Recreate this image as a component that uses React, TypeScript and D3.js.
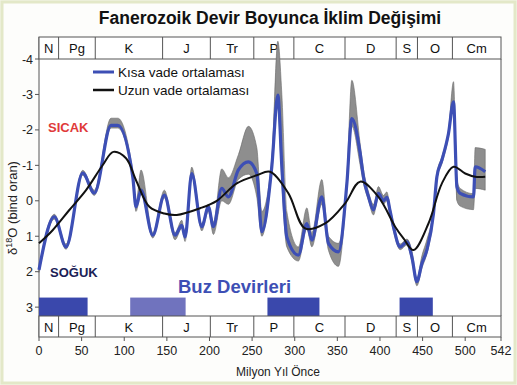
import React from "react";
import * as d3 from "d3";

// Geologic periods (Ma)
const periodNames = ["N", "Pg", "K", "J", "Tr", "P", "C", "D", "S", "O", "Cm"];
const periodStart = [0, 23, 66, 145, 201, 252, 299, 359, 419, 444, 485];
const periodEnd = [23, 66, 145, 201, 252, 299, 359, 419, 444, 485, 542];

// Ice ages (Ma)
const iceStart = [0, 107, 268, 423];
const iceEnd = [57, 172, 329, 462];
const iceLight = [false, true, false, false];

// Short-term average with uncertainty band
const shortAge = [0, 18, 31.7, 51.3, 64.9, 84.5, 92.4, 110, 113.8, 119.7, 133.5, 147.1, 159.6, 167.5, 171.4, 179.2, 191, 198.7, 204.6, 214.4, 222.2, 233.9, 245.7, 255.5, 261.4, 273.1, 280.2, 284.9, 290.7, 304.3, 314.2, 320.1, 331.8, 339.6, 351.3, 361.2, 367, 376.8, 380.6, 386.6, 392.4, 398.2, 404.1, 408, 412, 415.8, 423.7, 431.6, 437.4, 443.3, 449.2, 455, 462.8, 466.8, 472.7, 480.4, 486.3, 490.3, 494.1, 509.7, 511.7, 523.5];
const shortMean = [1.95, 0.45, 1.3, -0.78, -0.22, -2.13, -2.13, -0.68, 0.17, -0.3, 0.97, -0.16, 0.97, 0.69, 1.02, -0.77, 0.73, 0.17, 0.73, -0.35, -0.11, -0.87, -1.1, -0.77, 0.87, -0.96, -2.98, -0.96, 1.02, 1.53, 0.64, 1.11, -0.11, 1.2, 1.44, -0.49, -2.32, -1.34, -0.68, -0.11, 0.26, -0.21, 0.0, -0.1, 0.3, 0.73, 1.3, 1.16, 1.58, 2.28, 1.77, 1.39, 0.36, -0.68, -1.15, -1.9, -2.79, -0.39, -0.21, -0.11, -0.96, -0.82];
const shortTop = [1.88, 0.38, 1.22, -0.86, -0.3, -2.33, -2.33, -0.8, 0.05, -0.87, 0.9, -0.3, 0.9, 0.55, 0.95, -0.95, 0.65, 0.1, 0.6, -0.9, -0.65, -1.3, -2.1, -1.5, 0.3, -1.2, -4.5, -3.0, 0.3, 1.3, 0.2, 0.9, -0.6, 1.0, 1.2, -0.7, -3.4, -1.6, -0.9, -0.25, 0.1, -0.4, -0.15, -0.25, 0.2, 0.65, 1.22, 1.08, 1.4, 2.2, 1.55, 1.1, 0.25, -0.78, -1.25, -2.0, -3.36, -0.6, -0.35, -0.2, -1.5, -1.45];
const shortBottom = [2.02, 0.52, 1.37, -0.72, -0.15, -2.05, -2.05, -0.6, 0.3, -0.2, 1.05, -0.08, 1.1, 0.78, 1.15, -0.7, 0.85, 0.3, 0.95, 0.0, 0.1, -0.6, -0.75, -0.1, 1.0, -0.8, -2.7, -0.5, 1.3, 1.7, 0.8, 1.3, 0.1, 1.4, 1.85, -0.3, -2.1, -1.0, -0.5, 0.0, 0.4, -0.1, 0.1, 0.0, 0.45, 0.85, 1.38, 1.25, 1.7, 2.4, 1.9, 1.5, 0.45, -0.6, -1.05, -1.8, -2.7, 0.0, 0.15, 0.25, -0.35, -0.3];

// Long-term average
const longAge = [0, 16, 35.6, 55.2, 74.8, 87.2, 102.1, 113.8, 129.5, 147.1, 161.6, 189, 208.6, 232, 255.5, 271.1, 292.6, 312.2, 335.7, 359.2, 376.8, 398.2, 417.8, 427.6, 439.3, 456.9, 472.7, 486.3, 500, 511.7, 523.5];
const longMean = [1.2, 0.83, 0.26, -0.3, -1.01, -1.38, -1.2, -0.58, 0.17, 0.36, 0.4, 0.21, 0.0, -0.49, -0.72, -0.82, -0.21, 0.78, 0.64, 0.07, -0.54, -0.11, 0.73, 1.06, 1.39, 0.64, -0.49, -0.96, -0.77, -0.68, -0.68];

const yTicks = [-4, -3, -2, -1, 0, 1, 2, 3];
const xTicks = [0, 50, 100, 150, 200, 250, 300, 350, 400, 450, 500, 542];

const W = 517;
const H = 385;
const font = "'Liberation Sans', Arial, sans-serif";

const App: React.FC = () => {
  const left = 39;
  const right = 501;
  const topBoxY = 37;
  const plotTop = 59;
  const plotBottom = 316;
  const botBoxY = 337;

  const x = d3.scaleLinear().domain([0, 542]).range([left, right]);
  const y = d3.scaleLinear().domain([-4, 3.25]).range([plotTop, plotBottom]);

  const band = d3
    .area<number>()
    .x((i) => x(shortAge[i]))
    .y0((i) => y(shortTop[i]))
    .y1((i) => y(shortBottom[i]))
    .curve(d3.curveMonotoneX);
  const shortLine = d3
    .line<number>()
    .x((i) => x(shortAge[i]))
    .y((i) => y(shortMean[i]))
    .curve(d3.curveMonotoneX);
  const longLine = d3
    .line<number>()
    .x((i) => x(longAge[i]))
    .y((i) => y(longMean[i]))
    .curve(d3.curveCatmullRom.alpha(0.5));

  const sIdx = shortAge.map((_, i) => i);
  const lIdx = longAge.map((_, i) => i);

  // period row at given top
  const periodRow = (top: number, h: number) => (
    <g>
      <rect x={left} y={top} width={right - left} height={h} fill="#fff" stroke="#555" strokeWidth={1} />
      {periodNames.map((p, i) => (
        <g key={p}>
          {i > 0 && (
            <line x1={x(periodStart[i])} x2={x(periodStart[i])} y1={top} y2={top + h} stroke="#555" strokeWidth={1} />
          )}
          <text
            x={(x(periodStart[i]) + x(periodEnd[i])) / 2}
            y={top + h / 2 + 5}
            textAnchor="middle"
            fontSize={13}
            fill="#111"
          >
            {p}
          </text>
        </g>
      ))}
    </g>
  );

  return (
    <svg width={W} height={H} style={{ position: "absolute", left: 0, top: 0 }} fontFamily={font}>
      <rect x={0} y={0} width={W} height={H} fill="#f4f6ea" />
      <rect x={2} y={2} width={W - 4} height={H - 4} fill="#fdfdfb" stroke="#e3e8c8" strokeWidth={3} />

      <text x={270} y={24} textAnchor="middle" fontSize={17.5} fontWeight="bold" fill="#111">
        Fanerozoik Devir Boyunca İklim Değişimi
      </text>

      {/* plot area */}
      <rect x={left} y={plotTop} width={right - left} height={plotBottom - plotTop} fill="#fff" />
      <line x1={right} x2={right} y1={plotTop} y2={plotBottom} stroke="#555" />
      <line x1={left} x2={left} y1={topBoxY} y2={botBoxY} stroke="#555" />

      {/* ice ages */}
      {iceStart.map((s, i) => (
        <rect
          key={s}
          x={x(s)}
          y={y(2.73)}
          width={x(iceEnd[i]) - x(s)}
          height={plotBottom - y(2.73)}
          fill={iceLight[i] ? "#7073be" : "#3a48ac"}
        />
      ))}

      {periodRow(topBoxY, plotTop - topBoxY)}
      {periodRow(plotBottom, botBoxY - plotBottom)}

      {/* y axis */}
      {yTicks.map((t) => (
        <g key={t}>
          <line x1={left - 4} x2={left} y1={y(t)} y2={y(t)} stroke="#555" />
          <text x={left - 6} y={y(t) + 4.5} textAnchor="end" fontSize={12.5} fill="#222">
            {t}
          </text>
        </g>
      ))}
      <text transform={`translate(17, 208) rotate(-90)`} textAnchor="middle" fontSize={13} fill="#222">
        δ<tspan fontSize={9} dy={-5}>18</tspan>
        <tspan dy={5}>O (bind oran)</tspan>
      </text>

      {/* x axis */}
      {xTicks.map((t) => (
        <g key={t}>
          <line x1={x(t)} x2={x(t)} y1={botBoxY} y2={botBoxY + 4} stroke="#555" />
          <text x={x(t)} y={botBoxY + 18} textAnchor="middle" fontSize={12.5} fill="#222">
            {t}
          </text>
        </g>
      ))}
      <text x={278} y={376} textAnchor="middle" fontSize={12} fill="#222">
        Milyon Yıl Önce
      </text>

      {/* data */}
      <path d={band(sIdx) || ""} fill="#8e8e8e" stroke="#6a6a6a" strokeWidth={0.6} />
      <path d={shortLine(sIdx) || ""} fill="none" stroke="#3d4fb5" strokeWidth={3.2} strokeLinejoin="round" />
      <path d={longLine(lIdx) || ""} fill="none" stroke="#111" strokeWidth={2} />

      {/* legend */}
      <line x1={93} x2={114} y1={72} y2={72} stroke="#3d4fb5" strokeWidth={3} />
      <text x={118} y={76.5} fontSize={13.5} fill="#111">Kısa vade ortalaması</text>
      <line x1={93} x2={114} y1={90} y2={90} stroke="#111" strokeWidth={2.5} />
      <text x={118} y={94.5} fontSize={13.5} fill="#111">Uzun vade ortalaması</text>

      <text x={48} y={132} fontSize={13} fontWeight="bold" fill="#e03a3a">SICAK</text>
      <text x={50} y={277} fontSize={13} fontWeight="bold" fill="#1b2156">SOĞUK</text>
      <text x={178} y={293} fontSize={18.5} fontWeight="bold" fill="#3d4fb5">Buz Devirleri</text>
    </svg>
  );
};

export default App;
